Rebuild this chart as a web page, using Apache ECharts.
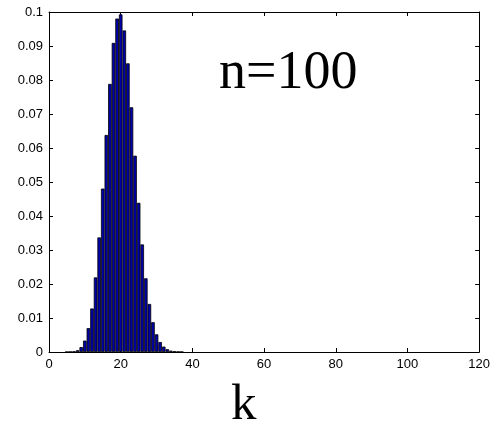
<!DOCTYPE html>
<html>
<head>
<meta charset="utf-8">
<script src="https://cdn.jsdelivr.net/npm/echarts@6/dist/echarts.min.js"></script>
<style>
html,body{margin:0;padding:0;background:#fff;}
#c{width:493px;height:430px;}
</style>
</head>
<body>
<div id="c"></div>
<script>
// k values (number of successes) and probabilities
var kValues = [5, 6, 7, 8, 9, 10, 11, 12, 13, 14, 15, 16, 17, 18, 19, 20, 21, 22, 23, 24, 25, 26, 27, 28, 29, 30, 31, 32, 33, 34, 35, 36, 37];
var probs = [0.00002, 0.00005, 0.00017, 0.00052, 0.00144, 0.00336, 0.00703, 0.0128, 0.02194, 0.0337, 0.04806, 0.06383, 0.07885, 0.0909, 0.09807, 0.0993, 0.09457, 0.0849, 0.07198, 0.05773, 0.04388, 0.03164, 0.02168, 0.01413, 0.00877, 0.0052, 0.00294, 0.00159, 0.00082, 0.0004, 0.00019, 0.00009, 0.00004];
var xTicks = [0, 20, 40, 60, 80, 100, 120];
var yTicks = [0, 0.01, 0.02, 0.03, 0.04, 0.05, 0.06, 0.07, 0.08, 0.09, 0.1];
var annotation = 'n=100';
var xTitle = 'k';

var chart = echarts.init(document.getElementById('c'), null, {renderer: 'canvas'});
var data = kValues.map(function (k, i) { return [k, probs[i]]; });
var lbl = {fontFamily: 'Liberation Sans, Arial, sans-serif', fontSize: 13, color: '#000'};
var axLine = {show: true, onZero: false, lineStyle: {color: '#000', width: 1}};
var tick = {show: true, inside: true, length: 4, lineStyle: {color: '#000', width: 1}};
chart.setOption({
  animation: false,
  backgroundColor: '#fff',
  grid: {left: 49, right: 11, top: 12, bottom: 78, containLabel: false},
  xAxis: [{
    type: 'value', min: xTicks[0], max: xTicks[xTicks.length - 1], interval: 20,
    position: 'bottom',
    axisLine: axLine, axisTick: tick,
    axisLabel: Object.assign({margin: 6}, lbl),
    splitLine: {show: false}
  }, {
    type: 'value', min: xTicks[0], max: xTicks[xTicks.length - 1], interval: 20,
    position: 'top',
    axisLine: axLine, axisTick: tick,
    axisLabel: {show: false}, splitLine: {show: false}
  }],
  yAxis: [{
    type: 'value', min: yTicks[0], max: yTicks[yTicks.length - 1], interval: 0.01,
    position: 'left',
    axisLine: axLine, axisTick: tick,
    axisLabel: Object.assign({margin: 6, formatter: function (v) { return String(+v.toFixed(2)); }}, lbl),
    splitLine: {show: false}
  }, {
    type: 'value', min: yTicks[0], max: yTicks[yTicks.length - 1], interval: 0.01,
    position: 'right',
    axisLine: axLine, axisTick: tick,
    axisLabel: {show: false}, splitLine: {show: false}
  }],
  series: [{
    type: 'bar',
    xAxisIndex: 0, yAxisIndex: 0,
    data: data,
    barWidth: 3.6,
    itemStyle: {color: '#0000A8', borderColor: '#000', borderWidth: 0.8},
    silent: true
  }],
  graphic: [{
    type: 'text', left: 219, top: 47,
    style: {text: annotation, font: '54px "Liberation Serif", "Times New Roman", serif', fill: '#000'}
  }, {
    type: 'text', left: 231, top: 380,
    style: {text: xTitle, font: '51px "Liberation Serif", "Times New Roman", serif', fill: '#000'}
  }]
});
</script>
</body>
</html>
